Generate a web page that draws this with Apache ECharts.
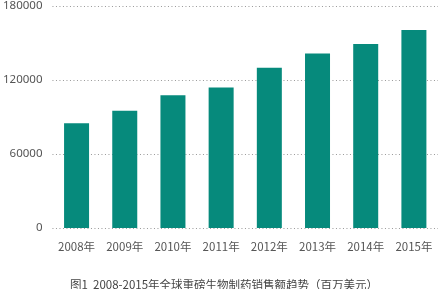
<!DOCTYPE html>
<html><head><meta charset="utf-8">
<script src="https://cdn.jsdelivr.net/npm/echarts@6/dist/echarts.min.js"></script>
<style>html,body{margin:0;padding:0;background:#fff}#c{width:440px;height:289px}</style>
</head><body><div id="c"></div>
<script>
const categories = ['2008年','2009年','2010年','2011年','2012年','2013年','2014年','2015年'];
const sales = [85000, 95000, 107700, 114000, 130000, 141500, 149200, 160500];
const yTicks = [0, 60000, 120000, 180000];
const caption = '图1  2008-2015年全球重磅生物制药销售额趋势（百万美元）';
const chart = echarts.init(document.getElementById('c'));
chart.setOption({
  animation: false,
  title: {text: caption, left: 219, textAlign: 'center', top: 274, textStyle: {fontSize: 11.5, fontWeight: 'normal', color: '#444', fontFamily: 'Noto Sans CJK SC'}},
  grid: {left: 48, right: 2, top: 4, bottom: 61},
  xAxis: {type: 'category', data: categories,
    axisLine: {show: false}, axisTick: {show: false},
    axisLabel: {color: '#555', fontSize: 11.5, margin: 13, fontFamily: 'Noto Sans CJK SC'}},
  yAxis: {type: 'value', min: yTicks[0], max: yTicks[yTicks.length-1], interval: 60000,
    axisLine: {show: false}, axisTick: {show: false},
    axisLabel: {color: '#555', fontSize: 11.5, margin: 10, fontFamily: 'Noto Sans', formatter: v => String(v)},
    splitLine: {lineStyle: {type: [1, 2.5], color: '#999', width: 1}}},
  series: [{type: 'bar', data: sales, barWidth: 25, itemStyle: {color: '#068a7c'}}]
});
</script></body></html>
